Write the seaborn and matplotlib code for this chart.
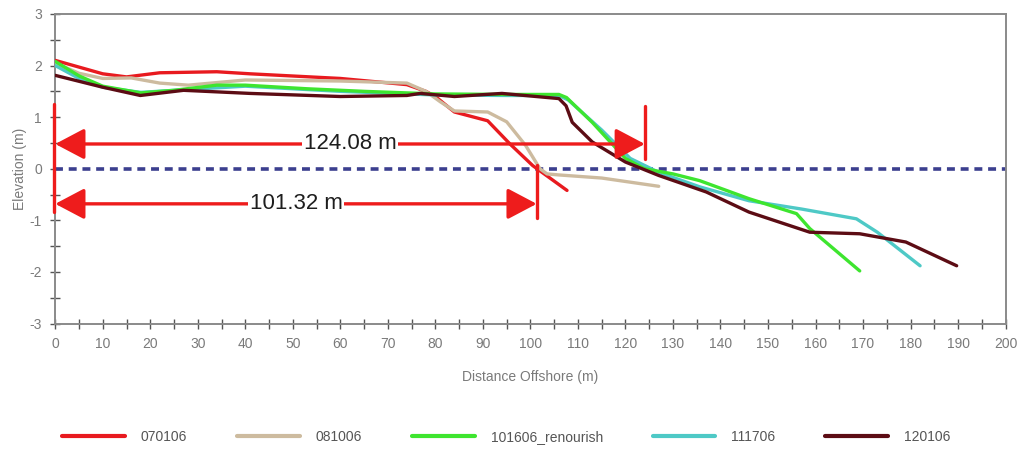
import matplotlib
matplotlib.use("Agg")
import matplotlib.pyplot as plt
from matplotlib.ticker import MultipleLocator
import pandas as pd
import seaborn as sns

# Beach profile surveys: distance offshore (m) and elevation (m)
surveys = ["070106", "081006", "101606_renourish", "111706", "120106"]
colors = ["#e81a1f", "#cdbb9f", "#3ee52f", "#4ec9c6", "#5c0c14"]

dist_070106 = [0, 10, 15, 22, 34, 41, 60, 74, 78, 80, 84, 91, 95.7, 100.5, 107.7]
elev_070106 = [2.1, 1.84, 1.78, 1.86, 1.88, 1.84, 1.75, 1.63, 1.5, 1.40, 1.1, 0.93, 0.48, 0.06, -0.42]

dist_081006 = [0, 5, 10, 16, 22, 28, 40, 60, 74, 78, 81, 84, 91, 95, 99, 102, 103.5, 106, 115, 127]
elev_081006 = [2.05, 1.85, 1.75, 1.76, 1.66, 1.62, 1.72, 1.7, 1.66, 1.5, 1.3, 1.12, 1.1, 0.91, 0.45, 0.0, -0.1, -0.12, -0.18, -0.34]

dist_101606 = [0, 5, 10, 18, 25, 34, 40, 53, 65, 80, 95, 106, 107.6, 113, 116, 120, 124, 130, 135.6, 146, 156, 158.8, 169.3]
elev_101606 = [2.08, 1.8, 1.6, 1.47, 1.52, 1.62, 1.62, 1.55, 1.5, 1.45, 1.44, 1.44, 1.38, 0.9, 0.6, 0.2, 0.0, -0.1, -0.23, -0.58, -0.87, -1.16, -1.98]

dist_111706 = [0, 5, 10, 18, 25, 40, 60, 80, 95, 106, 108, 115, 121, 127, 135.6, 146, 157, 168.6, 173, 182]
elev_111706 = [2.0, 1.75, 1.58, 1.48, 1.52, 1.6, 1.5, 1.43, 1.42, 1.42, 1.33, 0.75, 0.2, -0.07, -0.35, -0.62, -0.78, -0.97, -1.23, -1.88]

dist_120106 = [0, 10, 17.9, 27, 41, 60, 74, 76.8, 84, 94, 106, 107.5, 108.8, 113, 120, 127, 137, 146, 158.8, 169.3, 179, 189.7]
elev_120106 = [1.81, 1.58, 1.42, 1.52, 1.46, 1.4, 1.42, 1.46, 1.4, 1.46, 1.36, 1.22, 0.9, 0.52, 0.13, -0.13, -0.45, -0.84, -1.23, -1.26, -1.42, -1.88]

# Shoreline distances (m) to the zero-elevation crossing, and their arrow levels
span_lengths = [124.08, 101.32]
span_levels = [0.48, -0.68]
marker_extents = [(0.19, 1.22), (-0.95, 0.08)]

frames = []
for name, xs, ys in zip(
    surveys,
    [dist_070106, dist_081006, dist_101606, dist_111706, dist_120106],
    [elev_070106, elev_081006, elev_101606, elev_111706, elev_120106],
):
    frames.append(pd.DataFrame({"Distance": xs, "Elevation": ys, "Survey": name}))
profiles = pd.concat(frames, ignore_index=True)

sns.set_style("white")
plt.rcParams["font.family"] = ["Liberation Sans", "DejaVu Sans"]
plt.rcParams["axes.unicode_minus"] = False

grey = "#7a7a7a"
red = "#ee1c1c"

fig = plt.figure(figsize=(10.23, 4.5), dpi=100)
ax = fig.add_axes([0.054, 0.281, 0.929, 0.688])

# Draw the cyan survey beneath the green one
draw_order = [0, 1, 3, 2, 4]
sns.lineplot(
    data=profiles, x="Distance", y="Elevation", hue="Survey",
    hue_order=[surveys[i] for i in draw_order],
    palette=dict(zip(surveys, colors)),
    sort=False, estimator=None, linewidth=2.4, ax=ax, zorder=3,
)

# Mean sea level reference
ax.axhline(0, color="#3c3f8f", linestyle=(0, (2.2, 1.6)), linewidth=2.6, zorder=2)

# Shoreline distance arrows
ax.plot([-0.3, -0.3], [-0.84, 1.26], color=red, linewidth=2.4, zorder=5, clip_on=False)
for length, level, (y0, y1) in zip(span_lengths, span_levels, marker_extents):
    ax.plot([length, length], [y0, y1], color=red, linewidth=2.4, zorder=5)
    ax.annotate(
        "", xy=(length, level), xytext=(0, level),
        arrowprops=dict(arrowstyle="<|-|>,head_length=1.8,head_width=0.95",
                        color=red, linewidth=2.4, shrinkA=0, shrinkB=0,
                        mutation_scale=10),
        zorder=5,
    )
    ax.text(length / 2, level, f"{length:.2f} m", ha="center", va="center",
            fontsize=16, color="#1e1e1e",
            bbox=dict(facecolor="white", edgecolor="none", pad=1.5), zorder=6)

ax.set_xlim(0, 200)
ax.set_ylim(-3, 3)
ax.xaxis.set_major_locator(MultipleLocator(10))
ax.xaxis.set_minor_locator(MultipleLocator(5))
ax.yaxis.set_major_locator(MultipleLocator(1))
ax.yaxis.set_minor_locator(MultipleLocator(0.5))
ax.tick_params(which="both", bottom=True, left=True, top=False, right=False,
               direction="inout", length=7, width=1, color="#555555")
ax.tick_params(which="major", labelcolor=grey, labelsize=10, pad=6)
for side in ["left", "bottom", "top", "right"]:
    ax.spines[side].set_color("#8a8a8a")
    ax.spines[side].set_linewidth(1.4)

ax.set_xlabel("Distance Offshore (m)", color=grey, fontsize=10, labelpad=14)
ax.set_ylabel("Elevation (m)", color=grey, fontsize=10, labelpad=2)

handles, labels = ax.get_legend_handles_labels()
ax.get_legend().remove()
order = {name: i for i, name in enumerate(labels)}
handles = [handles[order[s]] for s in surveys]
leg = fig.legend(handles, surveys, loc="center", bbox_to_anchor=(0.495, 0.029), ncol=5,
                 frameon=False, handlelength=4.5, columnspacing=3.6, handletextpad=1.15,
                 fontsize=10)
for t in leg.get_texts():
    t.set_color("#555555")
for line in leg.get_lines():
    line.set_linewidth(3)

fig.savefig("out.png", dpi=100)
